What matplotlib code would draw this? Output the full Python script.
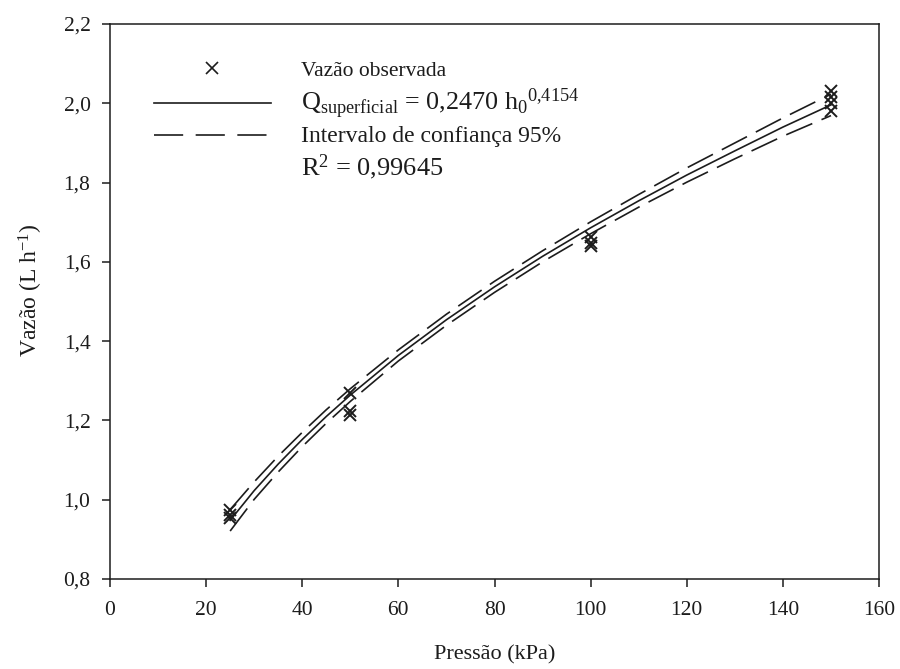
import matplotlib
matplotlib.use('Agg')
from matplotlib import pyplot as plt
from matplotlib.lines import Line2D

plt.rcParams['font.family'] = ['Liberation Serif', 'DejaVu Serif']
plt.rcParams['mathtext.fontset'] = 'custom'
plt.rcParams['mathtext.rm'] = 'Liberation Serif'
plt.rcParams['mathtext.it'] = 'Liberation Serif:italic'

# observed flow (three replicates per pressure, four at 150 kPa)
pressao_obs = [25, 25, 25, 50, 50, 50, 100, 100, 100, 150, 150, 150, 150]
vazao_obs = [0.975, 0.962, 0.955, 1.270, 1.225, 1.215,
             1.662, 1.648, 1.640, 2.030, 2.015, 2.000, 1.980]

# fitted curve and 95% band
pressao_fit = [25, 30, 35, 40, 45, 50, 60, 70, 80, 90, 100, 110, 120, 130, 140, 150]
vazao_fit = [0.948, 1.023, 1.090, 1.152, 1.210, 1.264, 1.364, 1.454, 1.537,
             1.614, 1.686, 1.754, 1.819, 1.880, 1.940, 1.996]
ic_sup = [0.975, 1.045, 1.110, 1.170, 1.227, 1.280, 1.378, 1.468, 1.551,
          1.628, 1.701, 1.770, 1.837, 1.900, 1.963, 2.023]
ic_inf = [0.921, 1.001, 1.070, 1.134, 1.193, 1.248, 1.350, 1.440, 1.523,
          1.600, 1.671, 1.738, 1.801, 1.860, 1.917, 1.969]

x_ticks = [0, 20, 40, 60, 80, 100, 120, 140, 160]
y_ticks = [0.8, 1.0, 1.2, 1.4, 1.6, 1.8, 2.0, 2.2]

cor = '#1c1c1c'
tracejado = (0, (17, 6))

fig = plt.figure(figsize=(9, 6.69), dpi=100)
ax = fig.add_axes([0.1222, 0.1345, 0.8545, 0.8296])

ax.plot(pressao_fit, vazao_fit, color=cor, lw=1.2)
ax.plot(pressao_fit, ic_sup, color=cor, lw=1.2, linestyle=tracejado)
ax.plot(pressao_fit, ic_inf, color=cor, lw=1.2, linestyle=tracejado)
ax.plot(pressao_obs, vazao_obs, linestyle='none', marker='x', color=cor,
        markersize=9, markeredgewidth=1.4)

ax.set_xlim(0, 160)
ax.set_ylim(0.8, 2.2)
ax.set_xticks(x_ticks)
ax.set_xticklabels([str(v) for v in x_ticks])
ax.set_yticks(y_ticks)
ax.set_yticklabels([f'{v:.1f}'.replace('.', ',') for v in y_ticks])
ax.tick_params(axis='x', direction='out', length=6, width=1.1, color=cor,
               labelsize=15.5, pad=10, labelcolor=cor)
ax.tick_params(axis='y', direction='out', length=6, width=1.1, color=cor,
               labelsize=15.5, pad=8, labelcolor=cor)
for s in ax.spines.values():
    s.set_linewidth(1.1)
    s.set_color(cor)

ax.set_xlabel('Pressão (kPa)', fontsize=16, color=cor, labelpad=18)
ax.set_ylabel(r'Vazão (L h$^{\mathregular{-1}}$)', fontsize=17, color=cor)
ax.yaxis.set_label_coords(-0.085, 0.52)

handles = [
    Line2D([], [], linestyle='none', marker='x', color=cor, markersize=9, markeredgewidth=1.2),
    Line2D([], [], color=cor, lw=1.2),
    Line2D([], [], color=cor, lw=1.2, linestyle=(0, (17.5, 7.5))),
    Line2D([], [], linestyle='none'),
]
labels = [
    'Vazão observada',
    r'Q$_{\mathregular{superficial}}$ = 0,2470 h$_{\mathregular{0}}{}^{\mathregular{0{,}4154}}$',
    'Intervalo de confiança 95%',
    r'R$^{\mathregular{2}}$ = 0,99645',
]
leg = ax.legend(handles, labels, loc='upper left', bbox_to_anchor=(0.033, 0.967),
                frameon=False, handlelength=5.6, handletextpad=1.45, labelspacing=0.26,
                fontsize=15)
for t, fs in zip(leg.get_texts(), [15.5, 18.8, 17, 19]):
    t.set_fontsize(fs)
    t.set_color(cor)

fig.savefig('out.png', dpi=100)
